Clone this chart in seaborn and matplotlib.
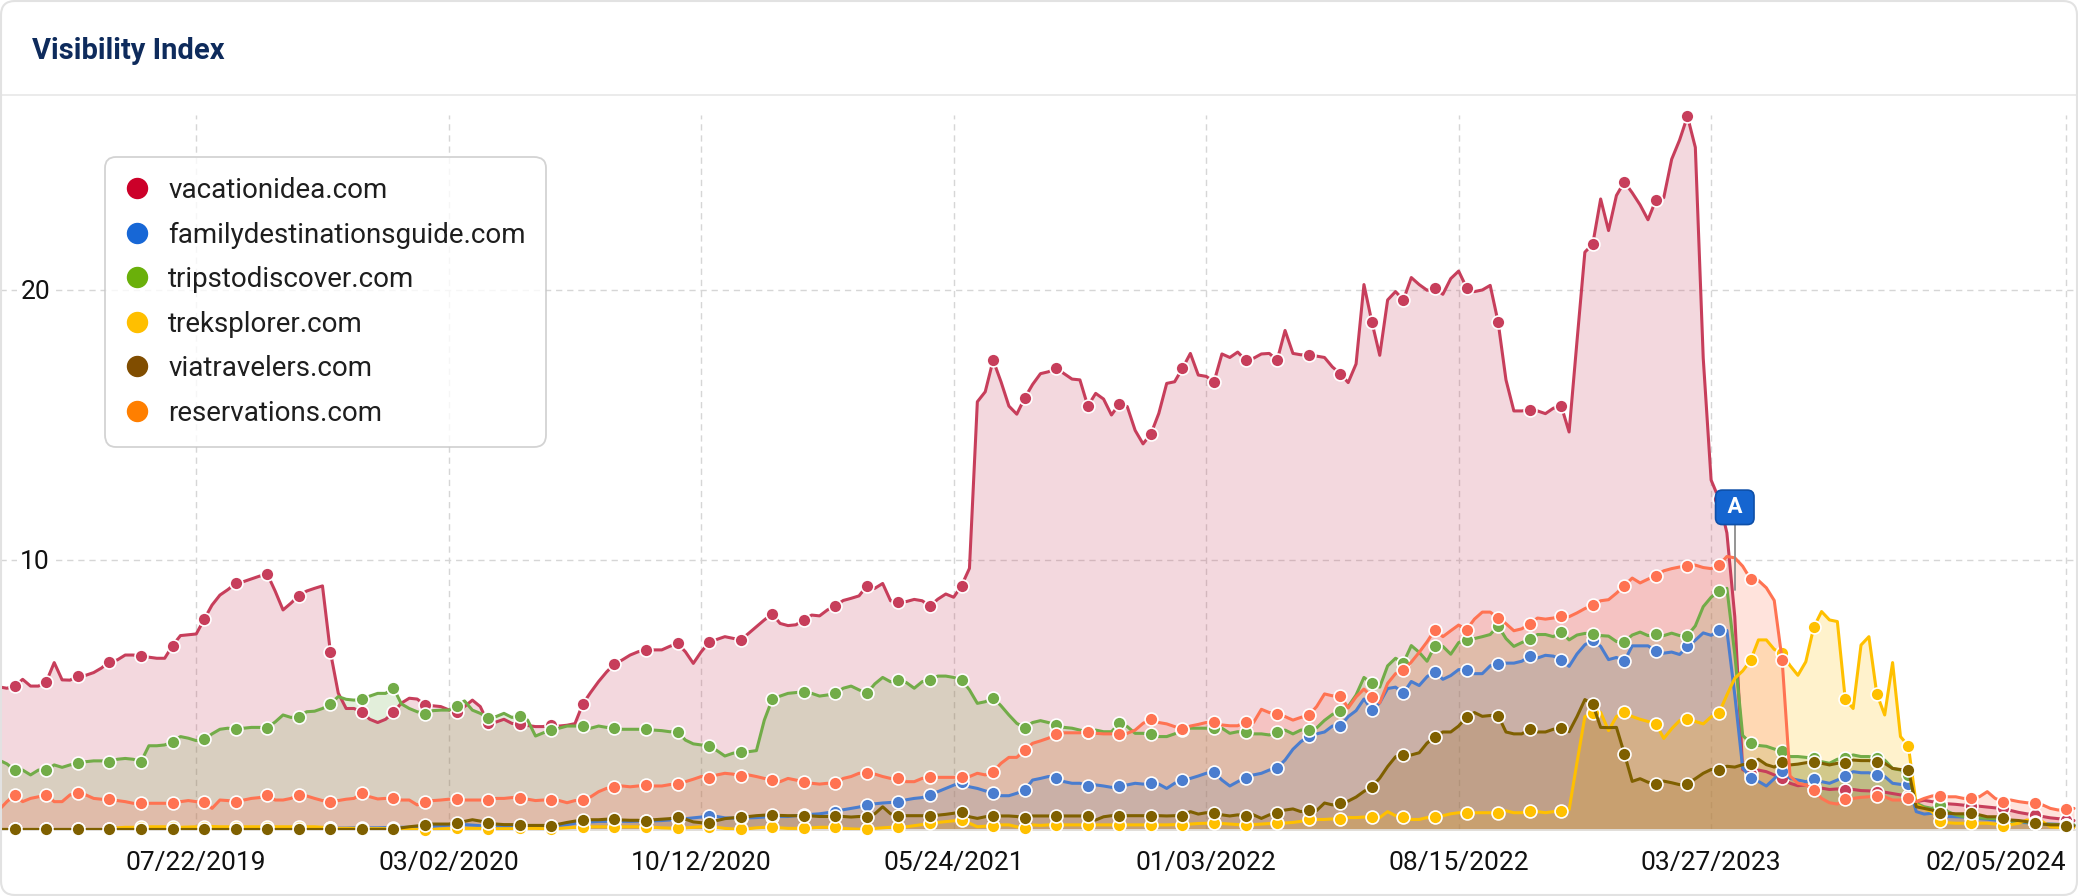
import matplotlib
matplotlib.use("Agg")
import matplotlib.pyplot as plt
import matplotlib.transforms as mtransforms
import pandas as pd
import seaborn as sns
from matplotlib.lines import Line2D
from matplotlib.patches import FancyBboxPatch

# weekly data, first week 2019-01-28
weeks = pd.date_range("2019-01-28", periods=264, freq="7D")

vacationidea = [
    5.30, 5.25, 5.33, 5.58, 5.33, 5.33, 5.49, 6.20, 5.56, 5.55, 5.70, 5.73, 5.83, 6.00, 6.24, 6.30,
    6.48, 6.48, 6.44, 6.40, 6.36, 6.36, 6.83, 7.20, 7.23, 7.26, 7.80, 8.33, 8.70, 8.90, 9.13, 9.20,
    9.30, 9.40, 9.48, 8.85, 8.15, 8.40, 8.68, 8.85, 8.95, 9.04, 6.60, 5.07, 4.50, 4.50, 4.36, 4.10,
    3.98, 4.10, 4.36, 4.70, 4.88, 4.85, 4.63, 4.60, 4.57, 4.45, 4.36, 4.57, 4.81, 4.57, 3.95, 4.00,
    4.10, 3.95, 3.91, 3.87, 3.83, 3.83, 3.90, 3.85, 3.88, 3.94, 4.67, 5.10, 5.50, 5.85, 6.15, 6.30,
    6.48, 6.60, 6.67, 6.67, 6.67, 6.80, 6.91, 6.60, 6.17, 6.60, 6.95, 7.06, 7.16, 7.10, 7.04, 7.28,
    7.53, 7.78, 8.00, 7.65, 7.57, 7.60, 7.78, 7.96, 7.93, 8.15, 8.30, 8.50, 8.58, 8.67, 9.04, 8.95,
    9.13, 8.49, 8.44, 8.46, 8.54, 8.49, 8.30, 8.55, 8.74, 8.62, 9.05, 9.69, 15.86, 16.23, 17.40, 16.60,
    15.70, 15.40, 16.00, 16.50, 16.90, 16.97, 17.10, 16.90, 16.70, 16.67, 15.70, 16.17, 15.96, 15.37, 15.78, 15.68,
    14.80, 14.30, 14.67, 15.43, 16.54, 16.60, 17.10, 17.65, 16.85, 16.80, 16.60, 17.63, 17.50, 17.70, 17.40, 17.47,
    17.63, 17.65, 17.40, 18.50, 17.65, 17.60, 17.60, 17.55, 17.50, 17.15, 16.90, 16.57, 17.26, 20.20, 18.82, 17.58,
    19.63, 19.94, 19.63, 20.46, 20.20, 19.99, 20.06, 19.84, 20.42, 20.70, 20.09, 19.94, 20.00, 20.17, 18.82, 16.67,
    15.52, 15.52, 15.56, 15.52, 15.42, 15.62, 15.71, 14.74, 18.10, 21.40, 21.70, 23.37, 22.20, 23.50, 24.00, 23.60,
    23.15, 22.60, 23.33, 23.42, 24.84, 25.55, 26.43, 25.28, 17.48, 12.96, 12.26, 11.00, 7.90, 2.24, 2.07, 2.22,
    2.16, 2.04, 1.91, 1.73, 1.64, 1.67, 1.60, 1.55, 1.50, 1.52, 1.48, 1.50, 1.46, 1.45, 1.42, 1.40,
    1.35, 1.30, 1.25, 1.05, 1.10, 1.05, 1.00, 0.97, 0.95, 0.92, 0.90, 0.88, 0.85, 0.82, 0.80, 0.72,
    0.65, 0.60, 0.55, 0.50, 0.45, 0.42, 0.38, 0.35,
]

familydestinationsguide = [
    0.02, 0.02, 0.02, 0.02, 0.02, 0.02, 0.02, 0.02, 0.02, 0.02, 0.02, 0.02, 0.02, 0.02, 0.02, 0.02,
    0.02, 0.02, 0.02, 0.02, 0.02, 0.02, 0.02, 0.02, 0.02, 0.02, 0.02, 0.02, 0.02, 0.02, 0.04, 0.04,
    0.04, 0.04, 0.04, 0.05, 0.05, 0.05, 0.05, 0.06, 0.06, 0.06, 0.06, 0.07, 0.07, 0.08, 0.08, 0.08,
    0.08, 0.09, 0.09, 0.10, 0.10, 0.10, 0.12, 0.14, 0.16, 0.18, 0.18, 0.20, 0.18, 0.16, 0.14, 0.13,
    0.13, 0.12, 0.12, 0.12, 0.13, 0.13, 0.14, 0.16, 0.20, 0.25, 0.30, 0.30, 0.32, 0.32, 0.33, 0.32,
    0.32, 0.33, 0.33, 0.34, 0.35, 0.37, 0.40, 0.42, 0.45, 0.48, 0.52, 0.50, 0.45, 0.44, 0.43, 0.45,
    0.46, 0.48, 0.49, 0.50, 0.50, 0.53, 0.56, 0.58, 0.60, 0.64, 0.68, 0.75, 0.80, 0.85, 0.94, 0.97,
    1.00, 1.02, 1.04, 1.12, 1.17, 1.20, 1.30, 1.42, 1.54, 1.66, 1.76, 1.60, 1.54, 1.45, 1.36, 1.27,
    1.27, 1.36, 1.48, 1.85, 1.91, 1.98, 1.94, 1.79, 1.73, 1.73, 1.64, 1.67, 1.63, 1.58, 1.64, 1.67,
    1.73, 1.70, 1.73, 1.70, 1.54, 1.73, 1.85, 1.91, 2.00, 2.10, 2.14, 1.85, 1.63, 1.79, 1.94, 2.04,
    2.10, 2.22, 2.31, 2.59, 2.99, 3.27, 3.47, 3.56, 3.63, 3.85, 3.85, 4.20, 4.42, 4.85, 4.46, 4.71,
    5.24, 5.29, 5.07, 5.50, 5.35, 5.68, 5.87, 5.58, 5.72, 5.94, 5.94, 5.79, 5.79, 6.08, 6.15, 6.18,
    6.18, 6.25, 6.44, 6.37, 6.47, 6.44, 6.31, 6.06, 6.52, 6.86, 7.03, 6.80, 6.31, 6.39, 6.25, 6.82,
    6.82, 6.82, 6.64, 6.55, 6.59, 6.50, 6.80, 7.03, 7.30, 7.21, 7.39, 7.39, 5.00, 2.30, 1.94, 1.80,
    1.63, 1.90, 2.18, 1.91, 1.85, 1.79, 1.88, 1.79, 1.73, 1.85, 2.00, 2.16, 2.12, 2.12, 2.04, 1.98,
    1.73, 1.69, 1.69, 0.68, 0.59, 0.62, 0.56, 0.50, 0.49, 0.48, 0.43, 0.42, 0.40, 0.37, 0.31, 0.30,
    0.29, 0.27, 0.25, 0.23, 0.22, 0.21, 0.19, 0.18,
]

tripstodiscover = [
    2.59, 2.45, 2.22, 2.22, 2.04, 2.22, 2.22, 2.41, 2.32, 2.41, 2.47, 2.53, 2.56, 2.56, 2.53, 2.62,
    2.65, 2.62, 2.53, 3.12, 3.12, 3.15, 3.27, 3.46, 3.40, 3.31, 3.36, 3.56, 3.73, 3.77, 3.73, 3.77,
    3.80, 3.80, 3.79, 4.00, 4.26, 4.17, 4.20, 4.38, 4.40, 4.50, 4.67, 4.94, 4.84, 4.81, 4.84, 4.96,
    5.06, 5.06, 5.26, 4.67, 4.50, 4.38, 4.30, 4.42, 4.44, 4.44, 4.60, 4.78, 4.44, 4.32, 4.16, 4.20,
    4.32, 4.17, 4.23, 4.07, 3.48, 3.60, 3.70, 3.77, 3.85, 3.85, 3.85, 3.77, 3.85, 3.80, 3.79, 3.73,
    3.73, 3.73, 3.73, 3.70, 3.68, 3.64, 3.64, 3.33, 3.19, 3.15, 3.12, 2.94, 2.74, 2.84, 2.90, 2.90,
    2.94, 4.07, 4.84, 4.96, 5.06, 5.09, 5.12, 5.06, 4.96, 5.00, 5.06, 5.25, 5.33, 5.19, 5.06, 5.41,
    5.65, 5.49, 5.56, 5.46, 5.25, 5.49, 5.56, 5.70, 5.70, 5.65, 5.56, 5.19, 4.69, 4.75, 4.90, 4.60,
    4.26, 3.95, 3.79, 3.98, 4.05, 3.98, 3.89, 3.80, 3.77, 3.70, 3.64, 3.70, 3.64, 3.64, 3.95, 3.83,
    3.58, 3.58, 3.56, 3.46, 3.46, 3.56, 3.70, 3.77, 3.77, 3.77, 3.77, 3.77, 3.58, 3.64, 3.62, 3.56,
    3.56, 3.52, 3.62, 3.70, 3.56, 3.70, 3.72, 3.78, 4.06, 4.28, 4.40, 4.57, 5.00, 5.65, 5.43, 5.29,
    6.08, 6.36, 6.19, 6.83, 6.58, 6.25, 6.83, 6.80, 6.51, 6.94, 7.05, 7.09, 7.16, 7.24, 7.56, 7.09,
    6.80, 6.94, 7.06, 7.24, 7.24, 7.16, 7.35, 7.04, 7.22, 7.28, 7.27, 7.20, 7.18, 6.98, 6.97, 7.22,
    7.33, 7.20, 7.26, 7.20, 7.29, 7.20, 7.20, 7.56, 8.27, 8.62, 8.84, 8.95, 6.50, 3.50, 3.22, 3.13,
    3.10, 3.00, 2.92, 2.72, 2.72, 2.69, 2.65, 2.53, 2.47, 2.62, 2.65, 2.78, 2.72, 2.72, 2.65, 2.59,
    2.28, 2.22, 2.04, 0.99, 0.86, 0.80, 0.93, 0.68, 0.56, 0.49, 0.49, 0.45, 0.43, 0.42, 0.37, 0.33,
    0.31, 0.30, 0.25, 0.23, 0.21, 0.20, 0.19, 0.18,
]

treksplorer = [
    0.02, 0.02, 0.02, 0.02, 0.02, 0.02, 0.02, 0.02, 0.02, 0.02, 0.02, 0.02, 0.02, 0.02, 0.05, 0.08,
    0.10, 0.10, 0.11, 0.12, 0.12, 0.12, 0.10, 0.10, 0.11, 0.12, 0.12, 0.13, 0.12, 0.12, 0.12, 0.12,
    0.12, 0.12, 0.12, 0.12, 0.12, 0.12, 0.12, 0.12, 0.12, 0.10, 0.08, 0.06, 0.06, 0.06, 0.05, 0.05,
    0.05, 0.05, 0.05, 0.04, 0.03, 0.02, 0.00, 0.02, 0.04, 0.05, 0.06, 0.06, 0.06, 0.06, 0.05, 0.05,
    0.05, 0.05, 0.06, 0.06, 0.06, 0.05, 0.05, 0.06, 0.08, 0.10, 0.12, 0.12, 0.12, 0.12, 0.12, 0.12,
    0.12, 0.12, 0.10, 0.10, 0.08, 0.07, 0.06, 0.08, 0.10, 0.12, 0.12, 0.10, 0.06, 0.04, 0.02, 0.05,
    0.08, 0.10, 0.10, 0.08, 0.06, 0.06, 0.06, 0.08, 0.10, 0.10, 0.10, 0.06, 0.04, 0.03, 0.02, 0.06,
    0.08, 0.10, 0.10, 0.12, 0.16, 0.20, 0.25, 0.28, 0.31, 0.34, 0.37, 0.25, 0.12, 0.14, 0.16, 0.19,
    0.19, 0.12, 0.06, 0.19, 0.17, 0.19, 0.19, 0.19, 0.19, 0.19, 0.19, 0.19, 0.19, 0.19, 0.19, 0.19,
    0.19, 0.19, 0.19, 0.19, 0.19, 0.20, 0.20, 0.22, 0.24, 0.25, 0.25, 0.24, 0.22, 0.20, 0.19, 0.20,
    0.22, 0.24, 0.25, 0.26, 0.28, 0.32, 0.39, 0.39, 0.39, 0.41, 0.39, 0.46, 0.46, 0.48, 0.49, 0.46,
    0.68, 0.53, 0.49, 0.39, 0.39, 0.46, 0.49, 0.53, 0.60, 0.64, 0.64, 0.64, 0.64, 0.64, 0.64, 0.71,
    0.64, 0.64, 0.71, 0.68, 0.64, 0.68, 0.70, 0.75, 2.50, 4.20, 4.33, 4.36, 3.68, 4.20, 4.37, 4.20,
    4.10, 4.02, 3.93, 3.39, 3.75, 4.05, 4.10, 4.02, 3.93, 4.19, 4.34, 5.00, 5.62, 5.89, 6.28, 7.04,
    7.04, 6.69, 6.55, 6.09, 5.73, 6.23, 7.50, 8.09, 7.78, 7.72, 4.84, 4.50, 6.85, 7.16, 5.04, 4.26,
    6.20, 3.46, 3.11, 0.93, 0.80, 0.68, 0.35, 0.27, 0.25, 0.25, 0.27, 0.25, 0.25, 0.22, 0.15, 0.20,
    0.25, 0.37, 0.31, 0.31, 0.12, 0.10, 0.10, 0.10,
]

viatravelers = [
    0.02, 0.02, 0.02, 0.02, 0.02, 0.02, 0.02, 0.02, 0.02, 0.02, 0.02, 0.02, 0.02, 0.02, 0.02, 0.02,
    0.02, 0.02, 0.02, 0.02, 0.02, 0.02, 0.02, 0.02, 0.02, 0.02, 0.02, 0.02, 0.02, 0.02, 0.02, 0.02,
    0.02, 0.02, 0.02, 0.02, 0.02, 0.02, 0.02, 0.02, 0.02, 0.02, 0.02, 0.02, 0.02, 0.02, 0.02, 0.02,
    0.02, 0.02, 0.02, 0.08, 0.12, 0.15, 0.18, 0.22, 0.22, 0.22, 0.27, 0.32, 0.38, 0.33, 0.27, 0.22,
    0.20, 0.20, 0.18, 0.17, 0.17, 0.17, 0.16, 0.22, 0.28, 0.33, 0.37, 0.38, 0.38, 0.40, 0.40, 0.37,
    0.36, 0.36, 0.33, 0.38, 0.40, 0.42, 0.47, 0.40, 0.30, 0.27, 0.25, 0.35, 0.42, 0.45, 0.47, 0.50,
    0.53, 0.55, 0.56, 0.54, 0.53, 0.53, 0.53, 0.52, 0.50, 0.50, 0.53, 0.50, 0.48, 0.50, 0.49, 0.60,
    0.86, 0.60, 0.53, 0.53, 0.53, 0.53, 0.53, 0.55, 0.58, 0.62, 0.68, 0.49, 0.43, 0.49, 0.53, 0.52,
    0.52, 0.50, 0.43, 0.52, 0.52, 0.52, 0.53, 0.52, 0.52, 0.52, 0.52, 0.37, 0.49, 0.53, 0.53, 0.53,
    0.53, 0.53, 0.53, 0.53, 0.52, 0.53, 0.53, 0.68, 0.59, 0.64, 0.62, 0.56, 0.52, 0.56, 0.53, 0.56,
    0.43, 0.56, 0.62, 0.74, 0.78, 0.68, 0.75, 0.72, 1.00, 0.93, 1.00, 1.07, 1.22, 1.43, 1.60, 1.92,
    2.35, 2.71, 2.78, 2.78, 2.86, 3.22, 3.44, 3.63, 3.63, 3.85, 4.18, 4.35, 4.21, 4.24, 4.24, 3.63,
    3.56, 3.56, 3.73, 3.63, 3.63, 3.73, 3.78, 3.64, 4.20, 4.83, 4.66, 3.80, 3.79, 3.80, 2.83, 1.80,
    1.90, 1.77, 1.72, 1.81, 1.75, 1.68, 1.72, 1.90, 2.10, 2.24, 2.24, 2.36, 2.33, 2.42, 2.44, 2.62,
    2.42, 2.33, 2.52, 2.41, 2.44, 2.49, 2.53, 2.47, 2.41, 2.47, 2.47, 2.59, 2.57, 2.57, 2.53, 2.47,
    2.28, 2.24, 2.24, 0.86, 0.80, 0.74, 0.62, 0.62, 0.60, 0.60, 0.62, 0.56, 0.49, 0.49, 0.46, 0.37,
    0.35, 0.31, 0.25, 0.22, 0.19, 0.19, 0.16, 0.15,
]

reservations = [
    0.74, 1.05, 1.30, 1.05, 1.17, 1.23, 1.30, 1.05, 1.05, 1.30, 1.36, 1.30, 1.17, 1.14, 1.14, 1.09,
    1.05, 0.99, 0.99, 0.99, 0.99, 0.99, 0.99, 1.05, 1.09, 1.05, 1.05, 0.80, 1.11, 1.09, 1.05, 1.11,
    1.17, 1.20, 1.30, 1.11, 1.11, 1.17, 1.30, 1.26, 1.17, 1.09, 1.05, 1.09, 1.14, 1.17, 1.36, 1.23,
    1.15, 1.17, 1.17, 1.11, 1.11, 0.93, 1.05, 1.09, 1.11, 1.14, 1.14, 1.11, 1.11, 1.11, 1.11, 1.17,
    1.17, 1.20, 1.20, 1.14, 1.09, 1.11, 1.11, 1.09, 1.01, 1.09, 1.11, 1.23, 1.42, 1.54, 1.58, 1.63,
    1.60, 1.63, 1.65, 1.63, 1.63, 1.68, 1.71, 1.79, 1.88, 1.98, 1.94, 2.04, 2.10, 2.07, 2.01, 2.04,
    1.98, 1.91, 1.85, 1.79, 1.91, 1.85, 1.79, 1.73, 1.70, 1.73, 1.73, 1.91, 1.98, 2.10, 2.10, 2.07,
    1.98, 1.91, 1.94, 1.79, 1.79, 1.91, 1.95, 1.95, 1.95, 1.95, 1.95, 1.98, 2.10, 2.04, 2.16, 2.47,
    2.69, 2.69, 2.96, 3.21, 3.30, 3.40, 3.56, 3.60, 3.60, 3.60, 3.62, 3.58, 3.56, 3.56, 3.56, 3.58,
    3.70, 3.95, 4.10, 3.98, 3.93, 3.83, 3.73, 3.85, 3.91, 3.98, 4.01, 3.89, 3.86, 3.86, 4.01, 3.98,
    4.47, 4.35, 4.30, 4.20, 4.07, 4.17, 4.25, 4.57, 5.04, 4.97, 4.97, 4.52, 4.93, 5.22, 4.93, 4.71,
    5.43, 5.79, 5.93, 6.22, 6.58, 6.97, 7.42, 7.16, 7.38, 7.59, 7.42, 7.81, 8.07, 8.07, 7.85, 7.64,
    7.38, 7.45, 7.64, 7.85, 7.81, 7.85, 7.92, 7.90, 8.04, 8.20, 8.32, 8.49, 8.53, 8.77, 9.05, 9.33,
    9.15, 9.29, 9.42, 9.60, 9.68, 9.74, 9.77, 9.81, 9.72, 9.68, 9.81, 10.13, 10.08, 9.77, 9.29, 9.24,
    8.97, 8.50, 6.30, 2.00, 1.73, 1.67, 1.48, 1.17, 1.01, 0.96, 1.14, 1.17, 1.21, 1.23, 1.27, 1.23,
    1.11, 1.11, 1.19, 1.05, 1.17, 1.26, 1.27, 1.23, 1.23, 1.17, 1.19, 1.23, 1.42, 1.17, 1.05, 1.11,
    1.05, 1.01, 0.99, 0.93, 0.80, 0.74, 0.77, 0.80,
]

series_names = [
    "vacationidea.com",
    "familydestinationsguide.com",
    "tripstodiscover.com",
    "treksplorer.com",
    "viatravelers.com",
    "reservations.com",
]
series_values = [vacationidea, familydestinationsguide, tripstodiscover,
                 treksplorer, viatravelers, reservations]
line_colors = ["#C73E5B", "#4A7DCF", "#72AC48", "#FFC000", "#7F6000", "#FF7352"]
legend_colors = ["#CC0029", "#1767D6", "#6AB00A", "#FFBF00", "#804D00", "#FF7F00"]

tick_dates = ["2019-07-22", "2020-03-02", "2020-10-12", "2021-05-24",
              "2022-01-03", "2022-08-15", "2023-03-27", "2024-02-05"]
tick_labels = ["07/22/2019", "03/02/2020", "10/12/2020", "05/24/2021",
               "01/03/2022", "08/15/2022", "03/27/2023", "02/05/2024"]
y_ticks = [10, 20]

flag_date = "2023-04-17"
flag_label = "A"
flag_low, flag_high = 8.9, 11.95

W, H = 2078, 896
sns.set_theme(style="white")
plt.rcParams["font.family"] = ["Roboto", "DejaVu Sans"]

fig = plt.figure(figsize=(W / 100, H / 100), dpi=100)
ax = fig.add_axes([0, 1 - 830 / H, 1, (830 - 115) / H])

for k, (name, vals, col) in enumerate(zip(series_names, series_values, line_colors)):
    ax.fill_between(weeks, 0, vals, color=col, alpha=0.2, linewidth=0, zorder=1)
    sns.lineplot(x=weeks, y=vals, ax=ax, color=col, linewidth=2.2, sort=False,
                 legend=False, zorder=3 + 2 * k)
    # a marker every fourth week
    sns.scatterplot(x=weeks[2::4], y=vals[2::4], ax=ax, color=col, s=86,
                    edgecolor="white", linewidth=1.2, zorder=4 + 2 * k,
                    legend=False, clip_on=False)

# flag
fd = pd.Timestamp(flag_date)
ax.plot([fd, fd], [flag_low, flag_high], color="#8C8C8C", linewidth=1.3, zorder=20)
ax.text(fd, flag_high, " " + flag_label + " ", ha="center", va="center", color="white",
        fontsize=16, fontweight="bold", zorder=21,
        bbox=dict(boxstyle="round,pad=0.28,rounding_size=0.3", fc="#1565D0", ec="#0E4FA8", lw=1.2))

start = weeks[0]
ax.set_xlim(start + pd.Timedelta(days=0.9), start + pd.Timedelta(days=7 * 263.5))
ax.set_ylim(0, 26.48)

ax.set_xticks(pd.to_datetime(tick_dates))
ax.set_xticklabels(tick_labels)
ax.set_yticks(y_ticks)
ax.set_yticklabels([str(v) for v in y_ticks])
ax.tick_params(axis="x", length=0, pad=15, labelsize=19, colors="#111111")
ax.tick_params(axis="y", length=0, pad=-36, labelsize=19, colors="#111111")
ax.get_xticklabels()[-1].set_horizontalalignment("right")
for lbl in ax.get_yticklabels():
    lbl.set_bbox(dict(fc="white", ec="none", pad=2))

ax.set_axisbelow(True)
ax.grid(True, color="#D6D6D6", linestyle=(0, (4.5, 3.5)), linewidth=1.0)
for side in ["top", "left", "right"]:
    ax.spines[side].set_visible(False)
ax.spines["bottom"].set_color("#E3E3E3")
ax.set_xlabel("")
ax.set_ylabel("")
ax.patch.set_alpha(0)

# header
fig.text(32 / W, 1 - 59 / H, "Visibility Index", fontsize=21, fontweight="bold",
         color="#0E2B5C", va="baseline", ha="left")
fig.add_artist(Line2D([0, 1], [1 - 95 / H] * 2, transform=fig.transFigure,
                      color="#E8E8E8", linewidth=1.2))

# legend (transparent background, gridlines show through)
handles = [Line2D([], [], marker="o", linestyle="", markersize=14.4,
                  markerfacecolor=c, markeredgecolor=c) for c in legend_colors]
leg = fig.legend(handles, series_names, loc="upper left",
                 bbox_to_anchor=(105 / W, 1 - 157 / H), borderaxespad=0,
                 fontsize=20, frameon=True, fancybox=True,
                 borderpad=0.72, handlelength=0.83,
                 handletextpad=0.72, labelspacing=0.63)
frame = leg.get_frame()
frame.set_facecolor((1, 1, 1, 0))
frame.set_edgecolor("#C8C8C8")
frame.set_linewidth(1.3)
frame.set_boxstyle("round,pad=0,rounding_size=0.4")
for t in leg.get_texts():
    t.set_color("#1E1E1E")

# card border
fig.patches.append(FancyBboxPatch((1, 1), W - 2, H - 2,
                                  boxstyle="round,pad=0,rounding_size=14",
                                  transform=mtransforms.IdentityTransform(),
                                  fc="none", ec="#E2E2E2", lw=1.5, zorder=30))

fig.savefig("out.png", dpi=100)
